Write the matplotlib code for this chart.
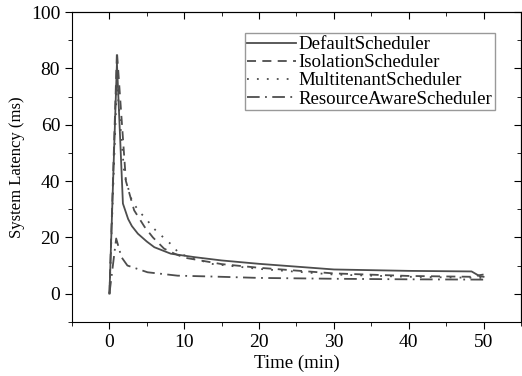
import matplotlib.pyplot as plt
from matplotlib.ticker import MultipleLocator

plt.rcParams['font.family'] = ['Liberation Serif', 'DejaVu Serif']

# latency over time (ms)
t_default = [0, 1, 1.8, 2.5, 3, 3.8, 5, 6, 8.2, 11.3, 15, 20, 30, 40, 48.4, 49.5, 50]
default = [0, 82, 32, 26.5, 24, 21.3, 18.5, 16.5, 14.2, 13, 11.8, 10.6, 8.6, 8.1, 7.9, 6.2, 6]

t_isolation = [0, 1, 2.2, 3.3, 4.7, 5.8, 7.3, 8.7, 10, 15, 20, 30, 40, 48.5, 49.5, 50]
isolation = [0, 86, 40, 29.6, 23.7, 20, 16, 14.2, 12.8, 10.5, 9.2, 7.2, 6.3, 6.0, 6.6, 6.8]

t_multi = [0, 1, 2, 3, 4, 4.9, 5.7, 7.6, 8.7, 9.2, 12.2, 13.6, 20, 30, 40, 50]
multi = [0, 75, 42, 33, 29, 26.7, 23.7, 19, 16.5, 14.3, 11.8, 10.6, 8.8, 6.8, 6.0, 5.6]

t_resource = [0, 0.9, 1.6, 2.4, 5.1, 9.1, 13.6, 20, 30, 40, 50]
resource = [0, 19.6, 13, 10, 7.6, 6.4, 6.1, 5.6, 5.3, 5.1, 5.0]

labels = ['DefaultScheduler', 'IsolationScheduler', 'MultitenantScheduler', 'ResourceAwareScheduler']

fig = plt.figure(figsize=(5.22, 3.76), dpi=100)
ax = fig.add_axes([0.138, 0.144, 0.86, 0.824])

c = '#4d4d4d'
ax.plot(t_default, default, color=c, lw=1.3, linestyle='-', label=labels[0])
ax.plot(t_isolation, isolation, color=c, lw=1.3, linestyle=(0, (5, 3.5)), label=labels[1])
ax.plot(t_multi, multi, color=c, lw=1.3, linestyle=(0, (1, 4.5)), label=labels[2])
ax.plot(t_resource, resource, color=c, lw=1.3, linestyle=(0, (7, 3, 1, 3)), label=labels[3])

ax.set_xlim(-5, 55)
ax.set_ylim(-10, 100)
ax.xaxis.set_major_locator(MultipleLocator(10))
ax.xaxis.set_minor_locator(MultipleLocator(5))
ax.yaxis.set_major_locator(MultipleLocator(20))
ax.yaxis.set_minor_locator(MultipleLocator(10))
ax.tick_params(which='both', direction='out', top=False, right=False, labelsize=14)
ax.tick_params(which='major', length=5)
ax.tick_params(which='minor', length=3)
ax.set_xticks([0, 10, 20, 30, 40, 50])

# inward ticks on the top and right spines
ax_t = ax.secondary_xaxis('top')
ax_t.xaxis.set_major_locator(MultipleLocator(10))
ax_t.xaxis.set_minor_locator(MultipleLocator(5))
ax_t.tick_params(which='major', direction='in', labeltop=False, length=5)
ax_t.tick_params(which='minor', direction='in', length=3)
ax_r = ax.secondary_yaxis('right')
ax_r.yaxis.set_major_locator(MultipleLocator(20))
ax_r.yaxis.set_minor_locator(MultipleLocator(10))
ax_r.tick_params(which='major', direction='in', labelright=False, length=5)
ax_r.tick_params(which='minor', direction='in', length=3)

ax.set_xlabel('Time (min)', fontsize=13.5, labelpad=3)
ax.set_ylabel('System Latency (ms)', fontsize=12, labelpad=4)

ax.legend(loc='upper right', bbox_to_anchor=(0.942, 0.932), fancybox=False,
          edgecolor='#999999', framealpha=1, fontsize=13.6, handlelength=2.6,
          borderpad=0.15, labelspacing=0.05, handletextpad=0.1, borderaxespad=0)

fig.savefig('out.png', dpi=100)
